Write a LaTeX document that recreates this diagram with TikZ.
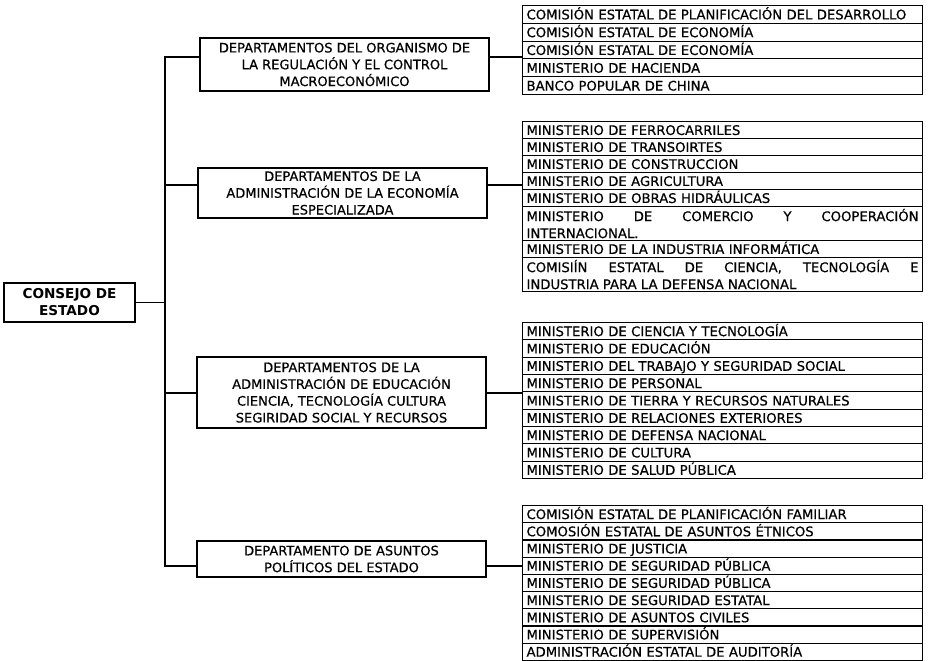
\documentclass[tikz,border=0pt]{standalone}
\usepackage{fontspec}
\setmainfont{DejaVu Sans}
\newfontfamily\txtfam{DejaVu Sans}[FakeBold=0.6]
\hyphenpenalty=10000
\exhyphenpenalty=10000
\newcommand{\rowfnt}{\txtfam\fontsize{13.2pt}{17pt}\selectfont}
\newcommand{\deptfnt}{\txtfam\fontsize{13pt}{16.8pt}\selectfont}
\tikzset{
  conn/.style={line width=1.1pt},
  row/.style={draw, line width=1.1pt, anchor=north west, inner xsep=4pt, inner ysep=0pt,
    text width=392pt, minimum height=#1, align=left, font=\rowfnt,
    text height=11pt, text depth=1.2pt},
  drow/.style={row=#1, text height={}, text depth={}, align=justify},
  dept/.style={draw, line width=1.1pt, align=center, font=\deptfnt, inner sep=0pt,
    minimum width=289pt},
  top/.style={draw, line width=1.3pt, align=center, inner sep=0pt,
    font=\fontsize{13.6pt}{17pt}\selectfont\bfseries, minimum width=131pt, minimum height=39pt}
}
\begin{document}
\begin{tikzpicture}[x=1pt,y=-1pt]
\useasboundingbox (0,0) rectangle (929,661);

% top node
\node[top] (cons) at (69.5,302.5) {CONSEJO DE\\ESTADO};

% departments
\node[dept, minimum height=53pt] (d1) at (344.5,64.5)
  {DEPARTAMENTOS DEL ORGANISMO DE\\LA REGULACIÓN Y EL CONTROL\\MACROECONÓMICO};
\node[dept, minimum height=50pt] (d2) at (342.5,193)
  {DEPARTAMENTOS DE LA\\ADMINISTRACIÓN DE LA ECONOMÍA\\ESPECIALIZADA};
\node[dept, minimum height=71pt] (d3) at (341.5,392.5)
  {DEPARTAMENTOS DE LA\\ADMINISTRACIÓN DE EDUCACIÓN\\CIENCIA, TECNOLOGÍA CULTURA\\SEGIRIDAD SOCIAL Y RECURSOS};
\node[dept, minimum height=36pt] (d4) at (341.5,559)
  {DEPARTAMENTO DE ASUNTOS\\POLÍTICOS DEL ESTADO};

% group 1
\foreach [count=\i] \t in {
  COMISIÓN ESTATAL DE PLANIFICACIÓN DEL DESARROLLO,
  COMISIÓN ESTATAL DE ECONOMÍA,
  COMISIÓN ESTATAL DE ECONOMÍA,
  MINISTERIO DE HACIENDA,
  BANCO POPULAR DE CHINA}
  \node[row=17.8pt] (ga\i) at (522,{5+17.8*(\i-1)}) {\t};

% group 2
\node[row=17pt] (gb1) at (522,121) {MINISTERIO DE FERROCARRILES};
\node[row=17pt] (gb2) at (522,138) {MINISTERIO DE TRANSOIRTES};
\node[row=17pt] (gb3) at (522,155) {MINISTERIO DE CONSTRUCCION};
\node[row=17pt] (gb4) at (522,172) {MINISTERIO DE AGRICULTURA};
\node[row=17pt] (gb5) at (522,189) {MINISTERIO DE OBRAS HIDRÁULICAS};
\node[drow=34pt] (gb6) at (522,206) {MINISTERIO DE COMERCIO Y COOPERACIÓN\linebreak INTERNACIONAL.};
\node[row=17pt] (gb7) at (522,240) {MINISTERIO DE LA INDUSTRIA INFORMÁTICA};
\node[drow=34pt] (gb8) at (522,257) {COMISIÍN ESTATAL DE CIENCIA, TECNOLOGÍA E\linebreak INDUSTRIA PARA LA DEFENSA NACIONAL};

% group 3
\foreach [count=\i] \t in {
  MINISTERIO DE CIENCIA Y TECNOLOGÍA,
  MINISTERIO DE EDUCACIÓN,
  MINISTERIO DEL TRABAJO Y SEGURIDAD SOCIAL,
  MINISTERIO DE PERSONAL,
  MINISTERIO DE TIERRA Y RECURSOS NATURALES,
  MINISTERIO DE RELACIONES EXTERIORES,
  MINISTERIO DE DEFENSA NACIONAL,
  MINISTERIO DE CULTURA,
  MINISTERIO DE SALUD PÚBLICA}
  \node[row=17.33pt] (gc\i) at (522,{322+17.33*(\i-1)}) {\t};

% group 4
\foreach [count=\i] \t in {
  COMISIÓN ESTATAL DE PLANIFICACIÓN FAMILIAR,
  COMOSIÓN ESTATAL DE ASUNTOS ÉTNICOS,
  MINISTERIO DE JUSTICIA,
  MINISTERIO DE SEGURIDAD PÚBLICA,
  MINISTERIO DE SEGURIDAD PÚBLICA,
  MINISTERIO DE SEGURIDAD ESTATAL,
  MINISTERIO DE ASUNTOS CIVILES,
  MINISTERIO DE SUPERVISIÓN,
  ADMINISTRACIÓN ESTATAL DE AUDITORÍA}
  \node[row=17.2pt] (gd\i) at (522,{505+17.2*(\i-1)}) {\t};

% connectors
\coordinate (j1) at (165,57);
\coordinate (j2) at (165,185);
\coordinate (j3) at (165,393);
\coordinate (j4) at (165,566);
\draw[conn] (j1 -| d1.west) -- (j1) -- (j4) -- (j4 -| d4.west);
\draw[conn] (cons.east) -- (cons.east -| j1);
\draw[conn] (j2) -- (j2 -| d2.west);
\draw[conn] (j3) -- (j3 -| d3.west);
\draw[conn] (j1 -| d1.east) -- (j1 -| ga1.west);
\draw[conn] (j2 -| d2.east) -- (j2 -| gb1.west);
\draw[conn] (j3 -| d3.east) -- (j3 -| gc1.west);
\draw[conn] (j4 -| d4.east) -- (j4 -| gd1.west);
\end{tikzpicture}
\end{document}
